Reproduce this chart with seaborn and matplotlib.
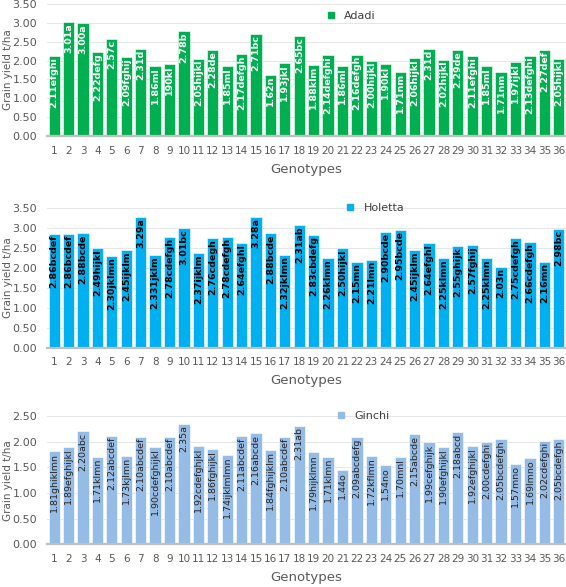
import matplotlib
matplotlib.use("Agg")
import matplotlib.pyplot as plt
import pandas as pd
import seaborn as sns
from matplotlib.lines import Line2D


genotypes = [str(i) for i in range(1, 37)]

adadi = [2.11, 3.01, 3.00, 2.22, 2.57, 2.09, 2.31, 1.86, 1.90, 2.78, 2.05, 2.28,
         1.85, 2.17, 2.71, 1.62, 1.93, 2.65, 1.88, 2.14, 1.86, 2.16, 2.00, 1.90,
         1.71, 2.06, 2.31, 2.02, 2.29, 2.11, 1.85, 1.71, 1.97, 2.13, 2.27, 2.05]
adadi_labels = ["2.11efghi", "3.01a", "3.00a", "2.22defg", "2.57c", "2.09fghij",
                "2.31d", "1.86ml", "190kl", "2.78b", "2.05hijkl", "2.28de",
                "1.85ml", "2.17defgh", "2.71bc", "1.62n", "1.93jkl", "2.65bc",
                "1.88klm", "2.14defghi", "1.86ml", "2.16defgh", "2.00hijkl", "1.90kl",
                "1.71nm", "2.06hijkl", "2.31d", "2.02hijkl", "2.29de", "2.11efghi",
                "1.85ml", "1.71nm", "1.97ijkl", "2.13defghi", "2.27def", "2.05hijkl"]

holetta = [2.86, 2.86, 2.88, 2.49, 2.30, 2.45, 3.29, 2.33, 2.78, 3.01, 2.37, 2.76,
           2.78, 2.64, 3.28, 2.88, 2.32, 3.08, 2.83, 2.26, 2.50, 2.15, 2.21, 2.90,
           2.95, 2.45, 2.64, 2.25, 2.55, 2.57, 2.25, 2.03, 2.75, 2.66, 2.16, 2.98]
holetta_labels = ["2.86bcdef", "2.86bcdef", "2.88bcde", "2.49hijkl", "2.30jklmn", "2.45ijklm",
                  "3.29a", "2.331jklm", "2.78cdefgh", "3.01bc", "2.37ijklm", "2.76cdegh",
                  "2.78cdefgh", "2.64efghl", "3.28a", "2.88bcde", "2.32jklmn", "2.31ab",
                  "2.83cbdefg", "2.26klmn", "2.50hijkl", "2.15mn", "2.21lmn", "2.90bcde",
                  "2.95bcde", "2.45ijklm", "2.64efghl", "2.25klmn", "2.55ghijk", "2.57fghij",
                  "2.25klmn", "2.03n", "2.75cdefgh", "2.66cdefgh", "2.16mn", "2.98bc"]

ginchi = [1.81, 1.89, 2.20, 1.71, 2.12, 1.73, 2.10, 1.90, 2.10, 2.35, 1.92, 1.86,
          1.74, 2.11, 2.16, 1.84, 2.10, 2.31, 1.79, 1.71, 1.44, 2.09, 1.72, 1.54,
          1.70, 2.15, 1.99, 1.90, 2.18, 1.92, 2.00, 2.05, 1.57, 1.69, 2.02, 2.05]
ginchi_labels = ["1.81ghiklmn", "1.89efghijkl", "2.20abc", "1.71klmn", "2.12abcdef", "1.73kjlmn",
                 "2.10abcdef", "1.90cdefghijkl", "2.10abcdef", "2.35a", "1.92cdefghjkl", "1.86fghijkl",
                 "1.74ijklmlmn", "2.11abcdef", "2.16abcde", "1.84fghijklm", "2.10abcdef", "2.31ab",
                 "1.79hijklmn", "1.71klmn", "1.44o", "2.09abcdefg", "1.72kflmn", "1.54no",
                 "1.70mnl", "2.15abcde", "1.99cefghijk", "1.90efghijkl", "2.18abcd", "1.92efghijkl",
                 "2.00cdefghi", "2.05bcdefgh", "1.57mno", "1.69lmno", "2.02cdefghi", "2.05bcdefgh"]


def panel(ax, values, labels, name, color, ymax, txt_color, weight, leg_xy):
    df = pd.DataFrame({"Genotypes": genotypes, "yield": values})
    sns.barplot(data=df, x="Genotypes", y="yield", order=genotypes, color=color,
                saturation=1, width=0.78, edgecolor="white", linewidth=0.4, ax=ax)
    ax.set_xlim(-0.5, 35.5)
    ax.set_ylim(0, ymax)
    ax.set_yticks([i * 0.5 for i in range(int(ymax / 0.5) + 1)])
    ax.set_yticklabels([f"{i * 0.5:.2f}" for i in range(int(ymax / 0.5) + 1)])
    ax.grid(axis="y", color="#e2e2e2", linewidth=0.6)
    ax.set_axisbelow(True)
    for s in ["top", "right", "left"]:
        ax.spines[s].set_visible(False)
    ax.spines["bottom"].set_color("#bfbfbf")
    ax.spines["bottom"].set_linewidth(1.6)
    ax.tick_params(axis="x", length=0, pad=7, labelsize=7.5, labelcolor="#595959")
    ax.tick_params(axis="y", length=0, pad=7, labelsize=8, labelcolor="#595959")
    ax.set_xlabel("Genotypes", fontsize=9.5, color="#595959", labelpad=5)
    ax.set_ylabel("Grain yield t/ha", fontsize=7.5, color="#595959")
    ax.yaxis.set_label_coords(-0.066, 0.5)

    # rotated value labels inside the top of each bar
    for i, (v, lab) in enumerate(zip(values, labels)):
        ax.text(i, v - 0.03, lab, rotation=90, ha="center", va="top",
                fontsize=6.8, color=txt_color, fontweight=weight)

    handle = Line2D([], [], marker="s", linestyle="none", markersize=5,
                    color=color)
    ax.legend([handle], [name], loc="center left", bbox_to_anchor=leg_xy,
              frameon=False, fontsize=8, handletextpad=0.2, borderpad=0,
              labelcolor="#404040")


fig = plt.figure(figsize=(5.66, 5.87), dpi=100)
ax1 = fig.add_axes([0.083, 0.7683, 0.917, 0.2249])
ax2 = fig.add_axes([0.083, 0.4077, 0.917, 0.2375])
ax3 = fig.add_axes([0.083, 0.0727, 0.917, 0.2186])

panel(ax1, adadi, adadi_labels, "Adadi", "#00B050", 3.5, "white", "bold", (0.515, 0.911))
panel(ax2, holetta, holetta_labels, "Holetta", "#00B0F0", 3.5, "black", "bold", (0.552, 1.004))
panel(ax3, ginchi, ginchi_labels, "Ginchi", "#95BCE6", 2.5, "#262626", "normal", (0.535, 1.002))

fig.savefig("out.png", dpi=100)
